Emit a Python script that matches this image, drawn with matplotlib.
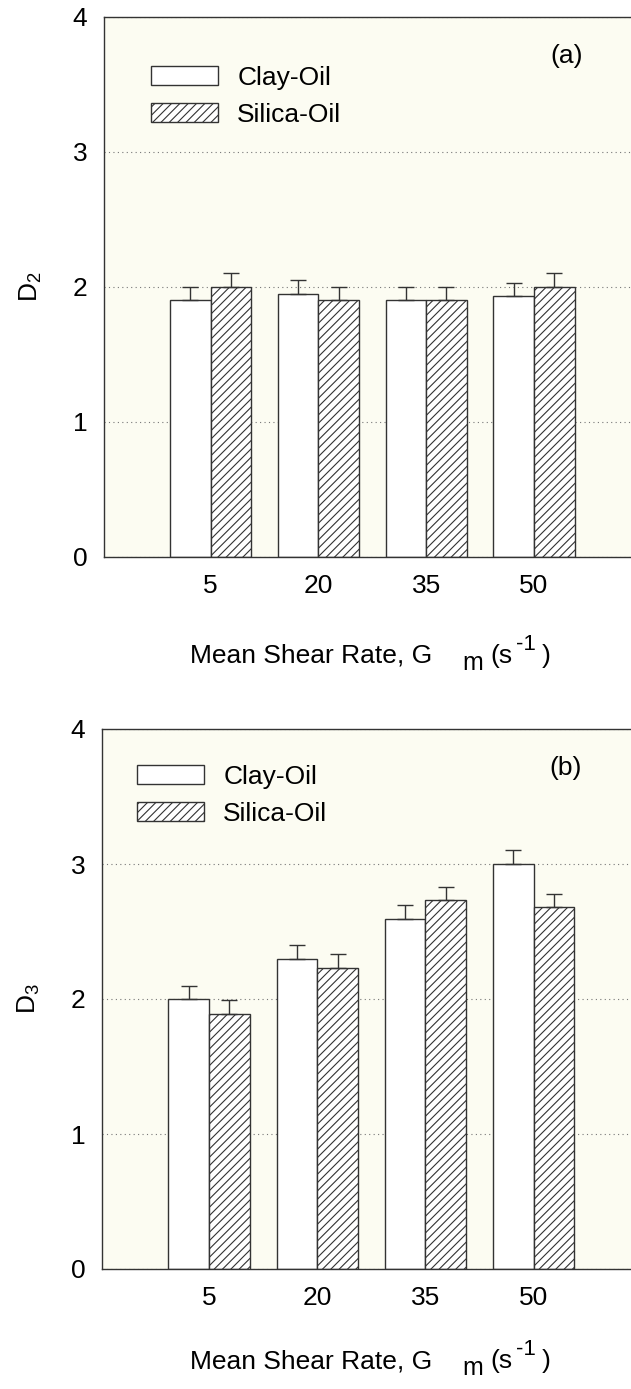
import numpy as np
import matplotlib
matplotlib.use('Agg')
import matplotlib.pyplot as plt
from matplotlib.patches import Patch

plt.rcParams['font.family'] = ['Liberation Sans', 'DejaVu Sans']
plt.rcParams['mathtext.fontset'] = 'custom'
plt.rcParams['mathtext.rm'] = 'Liberation Sans'
plt.rcParams['mathtext.it'] = 'Liberation Sans:italic'
plt.rcParams['hatch.linewidth'] = 0.8
plt.rcParams['hatch.color'] = '#222222'

# Mean shear rate groups
shear_rates = ['5', '20', '35', '50']

# (a) D2 fractal dimension
clay_d2 = [1.90, 1.95, 1.90, 1.93]
clay_d2_err = [0.10, 0.10, 0.10, 0.10]
silica_d2 = [2.00, 1.90, 1.90, 2.00]
silica_d2_err = [0.10, 0.10, 0.10, 0.10]

# (b) D3 fractal dimension
clay_d3 = [2.00, 2.30, 2.59, 3.00]
clay_d3_err = [0.10, 0.10, 0.11, 0.10]
silica_d3 = [1.89, 2.23, 2.73, 2.68]
silica_d3_err = [0.10, 0.10, 0.10, 0.10]

BG = '#FCFCF2'
EDGE = '#333333'
FS = 19
W, H = 631, 1389

fig = plt.figure(figsize=(W / 100, H / 100), dpi=100)
fig.patch.set_facecolor('white')


def panel(rect, clay, clay_err, silica, silica_err, ylab, tag, leg_xy):
    ax = fig.add_axes(rect)
    ax.set_facecolor(BG)
    x = np.arange(len(shear_rates))
    width = 0.376
    ax.bar(x - width / 2, clay, width, color='white', edgecolor=EDGE, linewidth=1.0, zorder=2)
    ax.bar(x + width / 2, silica, width, color='white', edgecolor=EDGE, linewidth=1.0,
           hatch='////', zorder=2)
    ax.errorbar(x - width / 2, clay, yerr=[np.zeros(len(clay)), clay_err], fmt='none',
                ecolor=EDGE, elinewidth=1.0, capsize=6, capthick=1.0, zorder=3)
    ax.errorbar(x + width / 2, silica, yerr=[np.zeros(len(silica)), silica_err], fmt='none',
                ecolor=EDGE, elinewidth=1.0, capsize=6, capthick=1.0, zorder=3)

    ax.set_xlim(-0.99, 3.90)
    ax.set_ylim(0, 4)
    ax.set_yticks([0, 1, 2, 3, 4])
    ax.set_xticks(x)
    ax.set_xticklabels(shear_rates)
    ax.tick_params(length=0, pad=12, labelsize=FS)
    ax.grid(axis='y', color='#777777', linestyle=(0, (1, 3)), linewidth=0.8, zorder=1)
    ax.set_axisbelow(True)
    ax.spines['right'].set_visible(False)
    for s in ['left', 'top', 'bottom']:
        ax.spines[s].set_color(EDGE)
        ax.spines[s].set_linewidth(1.0)

    ax.text(-0.138, 0.5, ylab, transform=ax.transAxes, rotation=90,
            ha='center', va='center', fontsize=FS)
    ax.text(0.877, 0.928, tag, transform=ax.transAxes, ha='center', va='center', fontsize=FS)

    handles = [Patch(facecolor='white', edgecolor=EDGE, linewidth=1.0, label='Clay-Oil'),
               Patch(facecolor='white', edgecolor=EDGE, linewidth=1.0, hatch='////',
                     label='Silica-Oil')]
    ax.legend(handles=handles, loc='upper left', bbox_to_anchor=leg_xy, frameon=False,
              fontsize=FS, handlelength=2.55, handleheight=0.7, handletextpad=0.72,
              labelspacing=0.5, borderpad=0, borderaxespad=0)
    return ax


def shear_label(base_px):
    # "Mean Shear Rate, G  m (s-1)" set piece by piece
    fy = lambda py: 1 - py / H
    fig.text(190 / W, fy(base_px), 'Mean Shear Rate, G', fontsize=FS, va='baseline')
    fig.text(462 / W, fy(base_px + 7), 'm', fontsize=FS - 1, va='baseline')
    fig.text(490 / W, fy(base_px), '(s', fontsize=FS, va='baseline')
    fig.text(516 / W, fy(base_px - 13), '-1', fontsize=FS - 3, va='baseline')
    fig.text(542 / W, fy(base_px), ')', fontsize=FS, va='baseline')


panel([104 / W, 1 - 557 / H, (W - 104) / W, 540 / H],
      clay_d2, clay_d2_err, silica_d2, silica_d2_err,
      r'D$_\mathregular{2}$', '(a)', (0.089, 0.91))
shear_label(663)

panel([102 / W, 1 - 1269 / H, (W - 102) / W, 540 / H],
      clay_d3, clay_d3_err, silica_d3, silica_d3_err,
      r'D$_\mathregular{3}$', '(b)', (0.066, 0.934))
shear_label(1368)

plt.savefig('out.png', dpi=100, facecolor='white')
plt.close()
